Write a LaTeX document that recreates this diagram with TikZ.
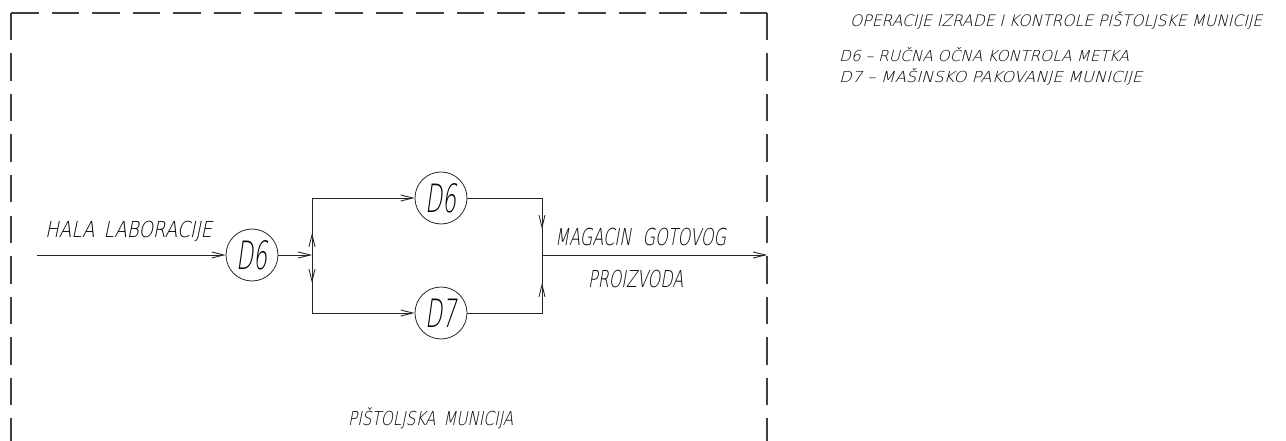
\documentclass[tikz,border=0pt]{standalone}
\usepackage{fontspec}
\usepackage{graphicx}
\usetikzlibrary{arrows.meta}
% thin slanted drafting lettering
\newfontfamily\cadfont[FakeSlant=0.25]{DejaVu Sans ExtraLight}
% \cad{size}{width}{text}: lettering squeezed to a given width (both in pt)
\newcommand\cad[3]{{\cadfont\fontsize{#1}{#1}\selectfont\resizebox{#2pt}{\height}{#3}}}
\begin{document}
\begin{tikzpicture}[x=1pt,y=-1pt,
  line/.style={line width=0.9pt, draw=black!85},
  arr/.style={line, -{Straight Barb[length=12pt,width=6pt]}},
  frame/.style={line width=1.2pt, draw=black!75, dash pattern=on 27.5pt off 13pt},
  op/.style={circle, draw=black!85, line width=0.8pt, minimum size=52pt, inner sep=0pt},
  lbl/.style={inner sep=0pt, anchor=base west}]
\useasboundingbox (0,0) rectangle (1286,441);

% dashed boundary of the pistol ammunition area
\coordinate (tl) at (11,13);
\coordinate (tr) at (767,13);
\coordinate (bl) at (11,445);
\coordinate (br) at (767,445);
\draw[frame] (tl) -- (bl);
\draw[frame] (tl) -- (tr);
\draw[frame] (tr) -- (br);

% operations
\node[op] (d6a) at (252,255) {\cad{39}{31}{D6}};
\node[op] (d6b) at (441,198) {\cad{39}{31}{D6}};
\node[op] (d7)  at (441,313) {\cad{39}{31}{D7}};

% junctions and free ends
\coordinate (in)  at (37,255);
\coordinate (j1)  at (312,255);
\coordinate (j1u) at (312,233);
\coordinate (j1d) at (312,283);
\coordinate (j2)  at (542,255);
\coordinate (j2u) at (542,229);
\coordinate (j2d) at (542,283);
\coordinate (out) at (767,255);

% material flow
\draw[arr] (in) -- (d6a);
\draw[arr] (d6a) -- (j1);
\draw[arr] (j1) |- (d6b);
\draw[arr] (j1) -- (j1u);
\draw[arr] (j1) |- (d7);
\draw[arr] (j1) -- (j1d);
\draw[line] (d6b) -| (j2);
\draw[arr] (d6b) -| (j2u);
\draw[line] (d7) -| (j2);
\draw[arr] (d7) -| (j2d);
\draw[arr] (j2) -- (out);

% labels
\node[lbl] (hala)  at (45,237)  {\cad{22}{167}{HALA\hspace{0.5em}LABORACIJE}};
\node[lbl] (mag)   at (555,245) {\cad{23.3}{171}{MAGACIN\hspace{0.7em}GOTOVOG}};
\node[lbl] (proiz) at (588,287) {\cad{23.3}{95}{PROIZVODA}};
\node[lbl] (pist)  at (348,425) {\cad{19.2}{165}{PIŠTOLJSKA\hspace{0.5em}MUNICIJA}};

% legend
\node[lbl] (title) at (850,27) {\cad{15.8}{412}{OPERACIJE IZRADE I KONTROLE PIŠTOLJSKE MUNICIJE}};
\node[lbl] (leg1)  at (839,62) {\cad{15.1}{290}{D6 – RUČNA OČNA KONTROLA METKA}};
\node[lbl] (leg2)  at (839,83) {\cad{15.1}{303}{D7 – MAŠINSKO PAKOVANJE MUNICIJE}};
\end{tikzpicture}
\end{document}
